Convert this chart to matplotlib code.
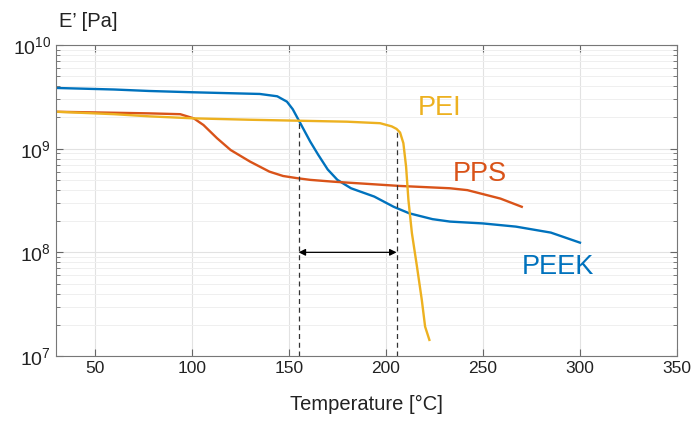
import numpy as np
import matplotlib
matplotlib.use('Agg')
import matplotlib.pyplot as plt
from matplotlib.ticker import FixedLocator, FixedFormatter, LogLocator, NullFormatter

plt.rcParams['font.family'] = ['Liberation Sans', 'DejaVu Sans']
plt.rcParams['mathtext.default'] = 'regular'

# data
peek_t = [30, 60, 78, 100, 135, 144, 149, 152, 155, 161, 165, 170, 175, 182, 194, 204, 212,
          224, 233, 250, 267, 285, 300]
peek_e = [3.85e9, 3.72e9, 3.6e9, 3.5e9, 3.37e9, 3.2e9, 2.84e9, 2.4e9, 1.89e9, 1.17e9, 8.8e8,
          6.3e8, 5.0e8, 4.15e8, 3.45e8, 2.75e8, 2.38e8, 2.09e8, 1.98e8, 1.9e8, 1.77e8,
          1.55e8, 1.24e8]

pps_t = [30, 60, 78, 94, 101, 106, 113, 120, 130, 140, 147, 154, 161, 173, 207, 233, 242,
         259, 270]
pps_e = [2.27e9, 2.22e9, 2.19e9, 2.15e9, 1.96e9, 1.69e9, 1.26e9, 9.7e8, 7.5e8, 6.0e8, 5.45e8,
         5.2e8, 5.0e8, 4.8e8, 4.37e8, 4.15e8, 3.98e8, 3.3e8, 2.75e8]

pei_t = [30, 60, 78, 101, 130, 155, 180, 197, 203, 205.5, 207.3, 209, 210.4, 211.6, 213.4,
         216, 218.5, 220.2, 222.4]
pei_e = [2.27e9, 2.15e9, 2.05e9, 1.96e9, 1.9e9, 1.86e9, 1.82e9, 1.76e9, 1.64e9, 1.55e9,
         1.43e9, 1.13e9, 6.7e8, 3.2e8, 1.53e8, 7.3e7, 3.47e7, 1.92e7, 1.43e7]

x_ticks = [50, 100, 150, 200, 250, 300, 350]
y_ticks = [1e7, 1e8, 1e9, 1e10]
y_labels = [r'$10^7$', r'$10^8$', r'$10^9$', r'$10^{10}$']

# window between PEEK/PEI crossing and PEI onset
win_lo, win_hi = 155, 205.5
win_lo_e, win_hi_e = 1.87e9, 1.55e9

blue = '#0072BD'
orange = '#D95319'
yellow = '#EDB120'

fig = plt.figure(figsize=(6.94, 4.28), dpi=100)
ax = fig.add_axes([0.0807, 0.1682, 0.8948, 0.7267])

ax.plot(peek_t, peek_e, color=blue, lw=1.7, solid_joinstyle='round')
ax.plot(pps_t, pps_e, color=orange, lw=1.7, solid_joinstyle='round')
ax.plot(pei_t, pei_e, color=yellow, lw=1.7, solid_joinstyle='round')

ax.set_yscale('log')
ax.set_xlim(30, 350)
ax.set_ylim(1e7, 1e10)

ax.plot([win_lo, win_lo], [1e7, win_lo_e], color='#333333', lw=0.9, ls=(0, (4, 3)))
ax.plot([win_hi, win_hi], [1e7, win_hi_e], color='#333333', lw=0.9, ls=(0, (4, 3)))
ax.annotate('', xy=(win_lo, 1e8), xytext=(win_hi, 1e8),
            arrowprops=dict(arrowstyle='<|-|>', color='black', lw=0.9,
                            mutation_scale=10, shrinkA=0, shrinkB=0))

ax.text(216.6, 2.1e9, 'PEI', color=yellow, fontsize=19.5)
ax.text(234.4, 4.86e8, 'PPS', color=orange, fontsize=19.5)
ax.text(270, 6.2e7, 'PEEK', color=blue, fontsize=19.5)

ax.xaxis.set_major_locator(FixedLocator(x_ticks))
ax.yaxis.set_major_locator(FixedLocator(y_ticks))
ax.yaxis.set_major_formatter(FixedFormatter(y_labels))
ax.yaxis.set_minor_locator(LogLocator(base=10, subs=np.arange(2, 10)))
ax.yaxis.set_minor_formatter(NullFormatter())

ax.tick_params(which='both', direction='in', top=True, right=True, color='#666666')
ax.tick_params(which='major', length=5, labelsize=12.5, labelcolor='#222222')
ax.tick_params(which='minor', length=3)
ax.tick_params(axis='y', which='major', labelsize=14)
for s in ax.spines.values():
    s.set_color('#777777')
    s.set_linewidth(0.8)

ax.grid(True, which='major', color='#e2e2e2', lw=0.8)
ax.grid(True, which='minor', axis='y', color='#efefef', lw=0.7)
ax.set_axisbelow(True)

ax.set_xlabel('Temperature [°C]', fontsize=14.5, color='#222222', labelpad=14)
fig.text(59 / 694, 1 - 27 / 428, 'E’ [Pa]', fontsize=14.5, color='#222222')

fig.savefig('out.png', dpi=100)
